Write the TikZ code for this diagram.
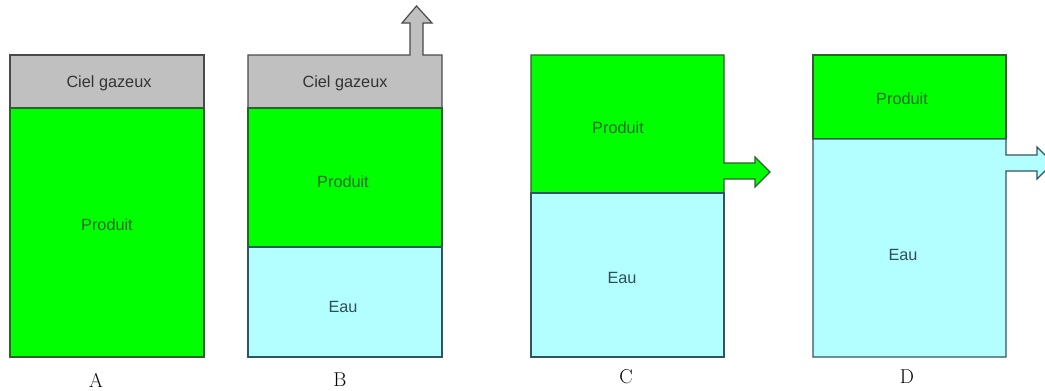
\documentclass[tikz,border=0pt]{standalone}
\usepackage{fontspec}
\newfontfamily\tanksans{Liberation Sans}
\usepackage{tikz}
\definecolor{TankGas}{HTML}{C0C0C0}
\definecolor{TankProduct}{HTML}{00FF00}
\definecolor{TankWater}{HTML}{B3FFFF}
\definecolor{GasEdge}{HTML}{4A4A4A}
\definecolor{ProductEdge}{HTML}{2F5F2F}
\definecolor{WaterEdge}{HTML}{2F5560}
\definecolor{GasText}{HTML}{333333}
\definecolor{ProductText}{HTML}{246B24}
\definecolor{WaterText}{HTML}{2F4F58}
\tikzset{
    % Base layer style
    baselayer/.style={
        line width=0.9pt,
        line join=miter
    },
    % Gas layer style
    gaslayer/.style={
        baselayer,
        draw=GasEdge,
        fill=TankGas
    },
    % Product layer style
    productlayer/.style={
        baselayer,
        draw=ProductEdge,
        fill=TankProduct
    },
    % Water layer style
    waterlayer/.style={
        baselayer,
        draw=WaterEdge,
        fill=TankWater
    },
    % Layer text
    layertext/.style={
        font=\tanksans\fontsize{12.2}{14}\selectfont,
        inner sep=0pt
    },
    gastext/.style={layertext, text=GasText},
    producttext/.style={layertext, text=ProductText},
    watertext/.style={layertext, text=WaterText},
    % Tank letter
    tanklabel/.style={
        font=\fontsize{15}{17}\selectfont,
        inner sep=0pt
    }
}
\begin{document}
\begin{tikzpicture}[x=0.75pt, y=-0.75pt]
    \clip (0,0) rectangle (1045,390);
    \fill[white] (0,0) rectangle (1045,390);

    % Tank A
    \draw[gaslayer] (10,55) rectangle (204,108);
    \draw[productlayer] (10,108) rectangle (204,357);
    \node[gastext] (gasA) at (109,83) {Ciel gazeux};
    \node[producttext] (prodA) at (107,225) {Produit};
    \node[tanklabel] (labA) at (96,380) {A};

    % Tank B (gas vented upwards)
    \draw[gaslayer] (248,108) -- (248,55) -- (410,55) -- (410,23) -- (402,23) -- (416.5,6)
        -- (432,23) -- (423,23) -- (423,55) -- (442,55) -- (442,108) -- cycle;
    \draw[productlayer] (248,108) rectangle (442,247);
    \draw[waterlayer] (248,247) rectangle (442,357);
    \node[gastext] (gasB) at (345,83) {Ciel gazeux};
    \node[producttext] (prodB) at (343,182) {Produit};
    \node[watertext] (eauB) at (343,307) {Eau};
    \node[tanklabel] (labB) at (340,380) {B};

    % Tank C (product drawn off)
    \draw[productlayer] (531,193) -- (531,55) -- (724,55) -- (724,163) -- (755,163) -- (755,157)
        -- (770,172) -- (755,187) -- (755,179) -- (724,179) -- (724,193) -- cycle;
    \draw[waterlayer] (531,193) rectangle (724,357);
    \node[producttext] (prodC) at (618,128) {Produit};
    \node[watertext] (eauC) at (622,278) {Eau};
    \node[tanklabel] (labC) at (626,377) {C};

    % Tank D (water drawn off)
    \draw[productlayer] (813,55) rectangle (1006,139);
    \draw[waterlayer] (813,139) -- (1006,139) -- (1006,155) -- (1037,155) -- (1037,147)
        -- (1053,163) -- (1037,179) -- (1037,171) -- (1006,171) -- (1006,357) -- (813,357) -- cycle;
    \node[producttext] (prodD) at (902,99) {Produit};
    \node[watertext] (eauD) at (903,255) {Eau};
    \node[tanklabel] (labD) at (907,377) {D};
\end{tikzpicture}
\end{document}
